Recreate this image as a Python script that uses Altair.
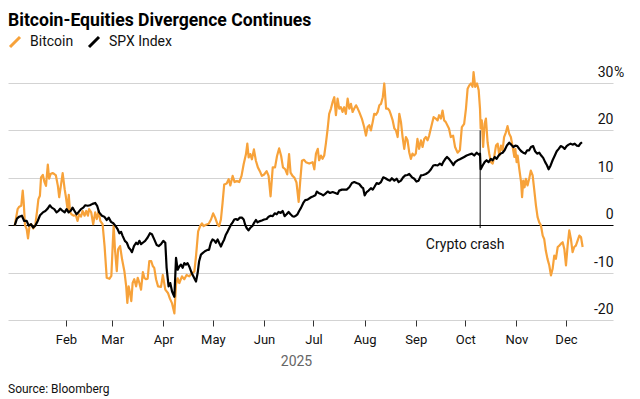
import altair as alt
import pandas as pd

# ---------------- data ----------------
series_names = ["Bitcoin", "SPX Index"]
series_colors = ["#F7A23A", "#000000"]

# days since 2025-01-01, % change since start of 2025
btc_days = [
    0, 1.7, 2.7, 3.9, 4.8, 5.4, 6.2, 7.2, 8.0, 9.0,
    10.0, 11.2, 12.4, 13.5, 14.3, 15.2, 15.9, 17.0, 17.9, 18.9,
    20.0, 20.8, 21.7, 22.9, 23.9, 24.9, 26.1, 26.9, 27.9, 29.0,
    30.2, 31.0, 32.1, 32.7, 33.5, 34.4, 35.6, 37.0, 38.0, 39.0,
    40.1, 41.1, 42.3, 43.3, 44.3, 45.0, 46.3, 47.5, 48.7, 49.7,
    50.8, 51.8, 53.2, 54.4, 55.7, 57.3, 58.5, 59.3, 59.9, 60.7,
    61.8, 62.6, 63.8, 65.0, 66.4, 67.5, 68.2, 69.0, 69.8, 70.6,
    71.4, 72.4, 73.5, 74.5, 75.5, 76.5, 77.6, 78.5, 79.5, 80.5,
    81.5, 82.7, 83.6, 84.5, 85.6, 86.8, 88.6, 89.7, 91.2, 92.8,
    94.0, 95.3, 96.7, 97.7, 98.7, 99.7, 101.3, 102.7, 104.1, 105.7,
    107.4, 108.8, 109.8, 111.1, 112.3, 113.4, 114.4, 115.8, 117.5, 118.9,
    120.2, 121.4, 122.9, 123.8, 124.9, 125.9, 126.9, 128.4, 129.6, 130.6,
    132.0, 133.2, 134.6, 136.0, 137.4, 138.7, 140.1, 140.9, 141.7, 142.7,
    143.7, 144.9, 146.1, 147.3, 148.5, 149.7, 151.1, 152.6, 153.8, 155.0,
    156.3, 157.7, 158.9, 160.2, 161.4, 162.5, 163.9, 165.1, 166.2, 167.1,
    168.3, 169.5, 170.7, 172.0, 172.9, 174.0, 175.2, 176.4, 178.4, 180.5,
    181.5, 182.5, 183.6, 184.4, 185.5, 186.5, 187.5, 188.5, 189.6, 190.5,
    191.6, 192.6, 193.6, 194.6, 195.6, 196.6, 197.6, 198.6, 199.6, 200.6,
    201.7, 202.7, 203.7, 204.7, 205.7, 206.8, 207.8, 208.7, 210.3, 211.7,
    212.8, 213.8, 214.8, 215.8, 216.9, 217.8, 218.9, 219.9, 220.9, 221.9,
    223.0, 223.9, 225.0, 226.0, 227.0, 228.0, 229.0, 230.0, 231.0, 232.0,
    233.0, 234.0, 235.0, 236.0, 237.0, 238.0, 239.0, 240.0, 241.0, 242.0,
    243.0, 244.0, 245.0, 246.1, 247.1, 248.1, 249.1, 250.1, 251.1, 252.8,
    253.8, 255.1, 256.2, 257.1, 258.2, 259.2, 260.2, 261.1, 263.1, 264.2,
    265.6, 266.8, 268.3, 269.7, 270.9, 272.3, 273.4, 274.4, 275.4, 276.4,
    277.4, 278.0, 279.0, 280.1, 281.1, 281.9, 282.3, 283.0, 283.8, 284.7,
    285.5, 286.5, 287.5, 288.5, 289.6, 290.5, 291.6, 292.6, 293.6, 294.6,
    295.6, 296.5, 297.6, 298.6, 299.6, 300.6, 301.7, 302.7, 303.3, 304.1,
    304.7, 305.7, 306.8, 307.4, 308.1, 308.9, 309.7, 310.7, 311.7, 312.7,
    313.8, 314.7, 315.8, 316.8, 317.8, 318.8, 319.9, 320.8, 321.8, 322.8,
    323.9, 324.9, 325.9, 326.9, 327.9, 329.0, 330.0, 331.0, 332.0, 333.0,
    334.0, 335.0, 336.0, 337.0, 338.0, 339.0, 340.0, 341.1, 342.1, 343.1,
    344.1,
]
btc_values = [
    0, 3.4, 3.9, 4.1, 7.3, 4.8, 0, -0.8, -2.8, 0,
    0.2, -0.7, 0, 3.0, 5.5, 6.2, 10.1, 10.6, 9.2, 8.3,
    12.8, 9.8, 10.8, 11.0, 10.8, 10.5, 8.3, 5.9, 8.3, 11.0,
    7.6, 5.9, 3.0, 6.4, 2.7, 2.3, 2.0, 2.1, 0.9, 2.3,
    1.8, 3.0, 2.0, 3.0, 2.0, 3.4, 2.7, 0.2, 2.7, 1.3,
    3.0, 0.9, 0.2, -4.4, -11.1, -11.3, -10.7, -4.4, 0, -5.1,
    -9.7, -5.1, -4.4, -7.2, -9.7, -12.9, -16.4, -12.9, -14.3, -16.0,
    -12.2, -11.4, -12.9, -11.1, -12.2, -13.6, -9.9, -11.1, -11.4, -11.3,
    -7.6, -7.6, -8.6, -9.0, -11.4, -12.9, -13.0, -10.5, -13.6, -14.3,
    -15.5, -16.5, -18.6, -12.5, -11.2, -12.2, -10.8, -11.4, -10.5, -10.8,
    -10.1, -9.8, -6.6, -1.3, -0.2, 0.4, -0.2, 0.1, 0.3, 1.2,
    2.5, 1.6, 0.1, -0.2, 1.2, 4.7, 8.6, 8.8, 9.7, 8.4,
    10.4, 9.1, 9.3, 9.1, 10.4, 12.9, 15.0, 17.2, 14.3, 15.0,
    13.9, 16.0, 13.6, 12.2, 11.4, 10.4, 10.7, 11.4, 10.4, 6.1,
    12.2, 12.2, 14.6, 16.2, 14.6, 12.2, 11.8, 10.7, 15.0, 11.1,
    10.4, 10.0, 9.0, 4.9, 9.0, 13.6, 13.8, 13.3, 13.0, 13.3,
    11.8, 15.1, 16.1, 13.7, 14.7, 14.0, 14.7, 17.2, 20.4, 23.5,
    24.6, 26.0, 27.0, 23.2, 26.7, 24.6, 24.9, 23.9, 24.9, 23.5,
    26.7, 24.6, 25.6, 23.9, 24.6, 25.3, 24.6, 23.9, 22.5, 20.7,
    18.9, 20.7, 21.1, 20.0, 21.8, 23.5, 23.3, 23.9, 25.3, 25.6,
    27.0, 29.9, 24.6, 24.6, 24.2, 23.2, 22.1, 20.4, 20.0, 18.6,
    23.5, 21.8, 18.6, 16.1, 18.6, 17.9, 15.4, 14.0, 15.1, 14.7,
    15.1, 18.2, 16.1, 17.9, 16.5, 18.2, 18.6, 17.9, 18.9, 21.4,
    22.8, 22.5, 22.1, 23.2, 22.5, 24.2, 22.1, 21.8, 20.4, 18.6,
    18.9, 16.5, 15.3, 15.8, 20.7, 21.4, 24.6, 28.8, 29.5, 29.9,
    29.2, 32.3, 29.2, 29.9, 28.5, 24.6, 20.4, 22.1, 16.5, 21.4,
    22.5, 17.5, 15.1, 13.3, 13.0, 14.4, 16.8, 17.2, 14.7, 16.8,
    15.8, 18.6, 19.6, 20.9, 19.3, 18.6, 16.5, 14.4, 16.1, 13.3,
    14.7, 11.9, 9.1, 5.9, 9.4, 8.0, 9.8, 8.4, 9.8, 11.5,
    10.5, 7.7, 4.2, 1.7, 0.6, 0, -2.2, -2.9, -5.4, -7.1,
    -8.5, -10.6, -9.2, -6.4, -7.1, -4.6, -4.3, -3.9, -3.6, -5.0,
    -8.5, -4.3, -1.1, -2.9, -5.7, -4.6, -4.3, -3.2, -2.2, -2.5,
    -4.6,
]

spx_days = [
    0, 1.3, 2.7, 4.3, 5.7, 7.2, 8.4, 9.8, 11.2, 12.4,
    13.9, 15.3, 17.0, 18.5, 19.9, 21.2, 22.4, 23.9, 25.3, 26.5,
    27.5, 29.0, 30.2, 31.4, 32.6, 33.8, 35.0, 36.2, 37.4, 38.7,
    40.1, 41.5, 42.7, 44.2, 45.5, 47.1, 48.7, 49.9, 51.1, 52.8,
    54.2, 55.7, 56.9, 58.3, 59.7, 60.9, 62.1, 63.4, 64.4, 65.4,
    66.7, 67.9, 69.0, 70.2, 71.0, 72.2, 73.5, 74.5, 75.5, 76.5,
    77.6, 79.0, 80.5, 81.9, 83.1, 84.5, 86.0, 87.2, 88.6, 90.0,
    91.2, 92.0, 93.2, 94.2, 95.3, 96.7, 97.7, 98.7, 99.7, 100.7,
    101.7, 102.7, 103.7, 104.7, 105.7, 107.2, 108.8, 109.8, 110.8, 111.7,
    112.8, 113.8, 115.2, 116.8, 117.7, 118.8, 119.8, 120.8, 121.8, 122.9,
    123.8, 124.9, 125.9, 126.9, 127.9, 129.0, 130.0, 131.0, 132.0, 133.0,
    134.0, 135.0, 136.4, 137.6, 138.7, 139.6, 140.5, 141.6, 142.6, 144.1,
    145.0, 146.1, 147.1, 148.1, 149.7, 151.1, 152.6, 153.8, 155.0, 156.3,
    157.5, 158.7, 159.8, 161.1, 162.3, 163.5, 164.7, 165.9, 167.1, 168.3,
    169.3, 170.3, 171.3, 172.3, 173.5, 174.8, 176.0, 177.4, 179.5, 180.9,
    182.1, 183.0, 184.1, 185.5, 186.9, 188.1, 189.6, 191.0, 192.6, 194.2,
    195.6, 196.6, 198.2, 199.6, 201.1, 202.7, 204.3, 205.7, 207.1, 208.7,
    210.3, 211.1, 212.0, 213.2, 214.4, 215.8, 216.9, 217.8, 219.3, 220.5,
    221.9, 223.3, 224.6, 226.0, 227.4, 228.5, 230.0, 231.4, 232.6, 234.0,
    235.3, 236.6, 238.0, 239.0, 240.7, 242.1, 243.4, 244.7, 246.1, 247.5,
    249.1, 250.8, 252.2, 253.6, 254.8, 256.2, 257.6, 258.8, 259.6, 260.7,
    261.9, 263.1, 264.6, 265.8, 266.8, 268.3, 269.7, 272.3, 273.8, 275.4,
    277.0, 278.4, 279.9, 281.1, 281.9, 282.3, 283.5, 284.7, 285.9, 287.1,
    288.5, 289.6, 290.8, 292.0, 293.2, 294.4, 295.6, 296.8, 298.2, 299.6,
    300.8, 302.1, 303.3, 304.5, 305.7, 306.9, 308.1, 309.3, 310.5, 311.7,
    312.8, 314.1, 315.3, 316.5, 317.8, 319.0, 320.2, 321.4, 322.4, 323.5,
    324.7, 325.9, 327.1, 328.4, 329.6, 330.8, 332.0, 333.2, 334.4, 335.6,
    336.8, 338.0, 339.3, 340.5, 341.7, 342.7, 343.7,
]
spx_values = [
    0, 1.4, 1.8, 2.0, 0.9, 0.9, -0.1, 0.2, -0.5, -0.1,
    0.9, 2.1, 2.7, 3.0, 3.5, 4.2, 3.7, 3.4, 2.7, 3.0,
    3.5, 3.0, 2.7, 3.4, 2.7, 3.0, 3.7, 3.0, 2.3, 2.8,
    3.4, 3.7, 4.2, 4.1, 4.2, 4.5, 4.7, 4.1, 2.7, 2.0,
    1.8, 1.1, 1.6, 0.7, 0.4, -0.1, -0.7, -1.7, -1.4, -2.3,
    -3.3, -3.7, -4.7, -5.2, -5.7, -4.4, -3.7, -4.0, -3.3, -4.0,
    -3.7, -3.3, -2.6, -1.7, -1.9, -3.0, -4.2, -4.4, -4.0, -3.3,
    -3.7, -9.0, -12.9, -12.2, -14.0, -15.1, -6.9, -9.4, -8.7, -8.3,
    -9.0, -8.0, -8.3, -8.0, -8.7, -10.1, -11.2, -11.9, -10.1, -7.6,
    -6.2, -5.9, -5.5, -5.2, -5.2, -3.7, -3.0, -3.2, -3.7, -3.0,
    -3.7, -4.5, -3.7, -3.0, -2.0, -1.3, -0.6, 0.1, 0.6, 1.2,
    1.3, 1.1, 1.6, 1.6, 1.2, 0.1, -0.6, -1.1, -0.6, -0.1,
    0.5, 1.1, 0.6, 0.8, 1.0, 1.2, 1.3, 1.8, 2.0, 1.9,
    2.5, 2.3, 2.8, 2.6, 3.0, 1.9, 2.3, 2.8, 2.3, 1.9,
    1.8, 2.0, 2.3, 3.0, 3.7, 4.7, 5.3, 5.4, 5.9, 6.1,
    6.3, 7.1, 6.8, 6.6, 6.3, 6.6, 7.1, 6.8, 7.0, 6.8,
    6.6, 7.3, 7.5, 7.5, 7.5, 8.0, 8.9, 9.1, 8.9, 8.7,
    8.0, 7.8, 6.3, 7.0, 7.3, 7.8, 7.5, 8.0, 8.9, 8.7,
    9.1, 10.1, 9.9, 9.6, 9.4, 9.9, 9.4, 9.8, 9.1, 9.4,
    10.1, 10.5, 10.6, 10.8, 10.1, 9.8, 9.2, 9.4, 10.5, 10.6,
    10.8, 11.2, 11.8, 12.6, 12.7, 12.6, 13.0, 12.7, 13.3, 13.9,
    14.4, 14.0, 13.3, 12.7, 13.3, 13.7, 13.9, 14.4, 14.7, 14.9,
    15.1, 14.7, 15.3, 14.9, 15.1, 11.8, 12.6, 13.3, 13.7, 13.3,
    14.0, 13.7, 14.4, 14.0, 14.7, 15.1, 15.3, 15.8, 16.8, 17.4,
    17.0, 16.5, 16.8, 16.7, 16.1, 15.6, 15.3, 15.1, 15.8, 15.8,
    16.5, 16.7, 15.6, 15.1, 15.3, 14.7, 14.2, 13.3, 12.7, 11.8,
    12.6, 13.7, 14.6, 15.6, 16.1, 16.7, 16.5, 16.1, 16.7, 17.0,
    17.2, 17.0, 17.2, 16.8, 16.7, 17.2, 17.5,
]

tick_months = [2, 3, 4, 5, 6, 7, 8, 9, 10, 11, 12]
y_ticks = [-20, -10, 0, 10, 20, 30]

crash_dates = ["2025-10-10"]
crash_top = [20]
crash_bottom = [-0.6]
crash_labels = ["Crypto crash"]
crash_label_y = [-5.1]

title_text = ["Bitcoin-Equities Divergence Continues"]
source_text = ["Source: Bloomberg"]
year_label = "2025"

# ---------------- tables ----------------
start = pd.Timestamp("2025-01-01")
btc_df = pd.DataFrame({
    "date": start + pd.to_timedelta(btc_days, unit="D"),
    "change": btc_values,
    "series": series_names[0],
})
spx_df = pd.DataFrame({
    "date": start + pd.to_timedelta(spx_days, unit="D"),
    "change": spx_values,
    "series": series_names[1],
})
lines_df = pd.concat([btc_df, spx_df], ignore_index=True)

crash_df = pd.DataFrame({
    "date": pd.to_datetime(crash_dates),
    "change": crash_top,
    "change2": crash_bottom,
})
crash_label_df = pd.DataFrame({
    "date": pd.to_datetime(crash_dates),
    "change": crash_label_y,
    "label": crash_labels,
})
pct_df = pd.DataFrame({"change": [max(y_ticks)], "txt": ["%"]})
source_df = pd.DataFrame({"txt": source_text})
title_df = pd.DataFrame({"txt": title_text})

FONT = "Roboto"
W, H = 605, 237

x_scale = alt.Scale(
    domain=[alt.DateTime(year=2024, month=12, date=27, hours=21),
            alt.DateTime(year=2025, month=12, date=29, hours=12)],
    nice=False,
)
y_scale = alt.Scale(domain=[min(y_ticks), max(y_ticks)], nice=False, zero=False)

x_axis = alt.Axis(
    values=[alt.DateTime(year=2025, month=m, date=1) for m in tick_months],
    format="%b", title=year_label, titleX=288, titleY=45,
    titleBaseline="alphabetic", titleAlign="center", titleFontWeight="normal",
    titleFontSize=14, titleColor="#666666", titleFont=FONT,
    labelFont=FONT, labelFontSize=13, labelColor="#111111", labelPadding=7,
    tickSize=6, tickColor="#333333", tickWidth=1, domain=False, grid=False,
)
y_axis = alt.Axis(
    orient="right", values=y_ticks, title=None, domain=False, ticks=False,
    tickSize=0, grid=True,
    gridColor={"condition": {"test": "datum.value === 0", "value": "#000000"},
               "value": "#d3d3d3"},
    gridWidth=1.2,
    labelAlign="right", labelBaseline="alphabetic", labelOffset=-6.5,
    labelPadding=0, labelFontSize=14, labelFont=FONT, labelColor="#111111",
    labelExpr="'' + datum.value",
)

X = alt.X("date:T", scale=x_scale, axis=x_axis)
Y = alt.Y("change:Q", scale=y_scale, axis=y_axis)

lines = alt.Chart(lines_df).mark_line(strokeWidth=2.2, strokeJoin="round").encode(
    x=X, y=Y,
    color=alt.Color(
        "series:N",
        scale=alt.Scale(domain=series_names, range=series_colors),
        legend=alt.Legend(
            title=None, orient="none", legendX=0, legendY=-48,
            direction="horizontal", symbolType="M-1,1L1,-1", symbolSize=100,
            symbolStrokeWidth=3, labelFontSize=14, labelFont=FONT,
            labelColor="#111111", labelOffset=8, columnPadding=9, padding=0,
        ),
    ),
)

crash_rule = alt.Chart(crash_df).mark_rule(color="black", strokeWidth=1).encode(
    x=X, y=Y, y2="change2:Q"
)
crash_text = alt.Chart(crash_label_df).mark_text(
    align="center", baseline="alphabetic", dx=-15, fontSize=14, font=FONT,
    color="#111111",
).encode(x=X, y=Y, text="label:N")

pct_text = alt.Chart(pct_df).mark_text(
    align="left", baseline="alphabetic", dy=-6.5, fontSize=14, font=FONT,
    color="#111111",
).encode(x=alt.value(W + 1), y=Y, text="txt:N")

source = alt.Chart(source_df).mark_text(
    align="left", baseline="alphabetic", fontSize=12, font=FONT, color="#111111",
).encode(x=alt.value(0), y=alt.value(H + 73), text="txt:N")

title = alt.Chart(title_df).mark_text(
    align="left", baseline="alphabetic", fontSize=17.6, fontWeight="bold",
    font=FONT, color="#000000",
).encode(x=alt.value(0), y=alt.value(-57), text="txt:N")

chart = alt.layer(lines, crash_rule, crash_text, pct_text, source, title).properties(
    width=W, height=H,
    padding={"left": 0, "top": 75, "right": 16, "bottom": 77},
    autosize=alt.AutoSizeParams(type="none"),
).configure(font=FONT).configure_view(stroke=None)

chart.save("out.html", embed_options={"renderer": "svg", "actions": False})
